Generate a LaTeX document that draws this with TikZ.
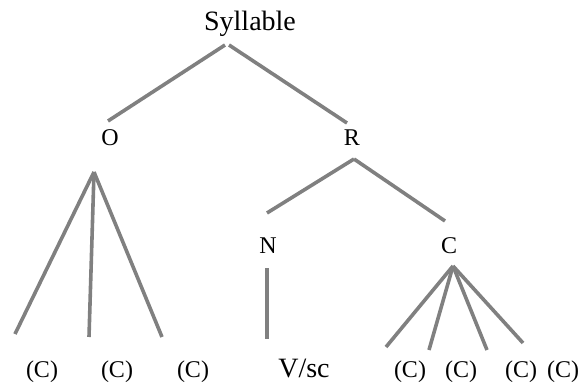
\documentclass[tikz,border=0pt]{standalone}
\usepackage{fontspec}
\setmainfont{Liberation Serif}
\begin{document}
\begin{tikzpicture}[x=1pt,y=-1pt,
  lab/.style={anchor=base,inner sep=0pt,font=\fontsize{24}{28}\selectfont},
  big/.style={anchor=base,inner sep=0pt,font=\fontsize{28}{32}\selectfont},
  leaf/.style={anchor=base,inner sep=0pt,font=\fontsize{24}{28}\selectfont},
  edge/.style={draw={rgb,255:red,128;green,128;blue,128},line width=3.6pt}]
\useasboundingbox (0,0) rectangle (584,385);
% labels
\node[big] (syl) at (250,31) {Syllable};
\node[lab] (O) at (110,146) {O};
\node[lab] (R) at (352,146) {R};
\node[lab] (N) at (268,253) {N};
\node[lab] (C) at (449,253) {C};
\node[leaf] (c1) at (42,377) {(C)};
\node[leaf] (c2) at (117,377) {(C)};
\node[leaf] (c3) at (193,377) {(C)};
\node[big] (v) at (304,377) {V/sc};
\node[leaf] (c4) at (410,377) {(C)};
\node[leaf] (c5) at (461,377) {(C)};
\node[leaf] (c6) at (521,377) {(C)};
\node[leaf] (c7) at (563,377) {(C)};
% line end points
\coordinate (sylL) at (225,45);
\coordinate (sylR) at (229,45);
\coordinate (Otop) at (108,121);
\coordinate (Rtop) at (347,123);
\coordinate (Rbot) at (354,159);
\coordinate (Ntop) at (267,213);
\coordinate (Ctop) at (445,221);
\coordinate (Oapex) at (94,172);
\coordinate (c1t) at (15,334);
\coordinate (c2t) at (89,337);
\coordinate (c3t) at (162,337);
\coordinate (Nbot) at (267,268);
\coordinate (vt) at (267,339);
\coordinate (Capex) at (453,266);
\coordinate (c4t) at (386,347);
\coordinate (c5t) at (429,350);
\coordinate (c6t) at (487,350);
\coordinate (c7t) at (523,343);
% connectors
\draw[edge] (sylL) -- (Otop);
\draw[edge] (sylR) -- (Rtop);
\draw[edge] (Rbot) -- (Ntop);
\draw[edge] (Rbot) -- (Ctop);
\draw[edge] (Oapex) -- (c1t);
\draw[edge] (Oapex) -- (c2t);
\draw[edge] (Oapex) -- (c3t);
\draw[edge] (Nbot) -- (vt);
\draw[edge] (Capex) -- (c4t);
\draw[edge] (Capex) -- (c5t);
\draw[edge] (Capex) -- (c6t);
\draw[edge] (Capex) -- (c7t);
\end{tikzpicture}
\end{document}
